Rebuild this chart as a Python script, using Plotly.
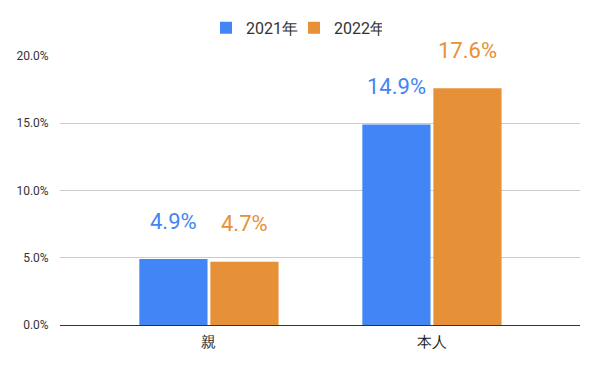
import plotly.graph_objects as go

categories = ["親", "本人"]
series_names = ["2021年", "2022年"]
values_2021 = [0.049, 0.149]
values_2022 = [0.047, 0.176]
colors = ["#4285F4", "#E69138"]
tick_vals = [0, 0.05, 0.10, 0.15, 0.20]
tick_text = ["0.0%", "5.0%", "10.0%", "15.0%", "20.0%"]

fig = go.Figure()
for name, vals, col in zip(series_names, [values_2021, values_2022], colors):
    fig.add_trace(go.Bar(x=categories, y=vals, name=name, marker=dict(color=col, line=dict(width=0))))

offsets = [-0.16, 0.16]
for vals, col, off in zip([values_2021, values_2022], colors, offsets):
    for i, v in enumerate(vals):
        fig.add_annotation(x=i + off, y=v, xref="x", yref="y", text=f"{v*100:.1f}%",
                           showarrow=False, yshift=38, font=dict(size=22, color=col, family="Roboto"))

fig.update_layout(
    width=600, height=371,
    margin=dict(l=60, r=20, t=56, b=46, autoexpand=False),
    paper_bgcolor="white", plot_bgcolor="white",
    font=dict(family="Roboto", color="#222"),
    barmode="group", bargap=0.363, bargroupgap=0.04,
    legend=dict(orientation="h", x=0.49, xanchor="center", y=0.925, yanchor="middle",
                xref="container", yref="container", font=dict(size=16, color="#333"),
                traceorder="normal", itemwidth=30, entrywidth=43),
    showlegend=True,
)
fig.update_xaxes(range=[-0.668, 1.664], tickfont=dict(size=15, color="#222"), showgrid=False,
                 showline=True, linecolor="#333", linewidth=1, ticks="outside", ticklen=3,
                 tickcolor="rgba(0,0,0,0)", automargin=False)
fig.update_yaxes(range=[0, 0.2], tickvals=tick_vals, ticktext=tick_text, gridcolor="#cccccc",
                 tickfont=dict(size=12, color="#333"), zeroline=False, ticks="outside", ticklen=8,
                 tickcolor="rgba(0,0,0,0)", showline=False, automargin=False)

fig.write_html("out.html", config={"displayModeBar": False},
               post_script="document.body.style.margin='0';")
